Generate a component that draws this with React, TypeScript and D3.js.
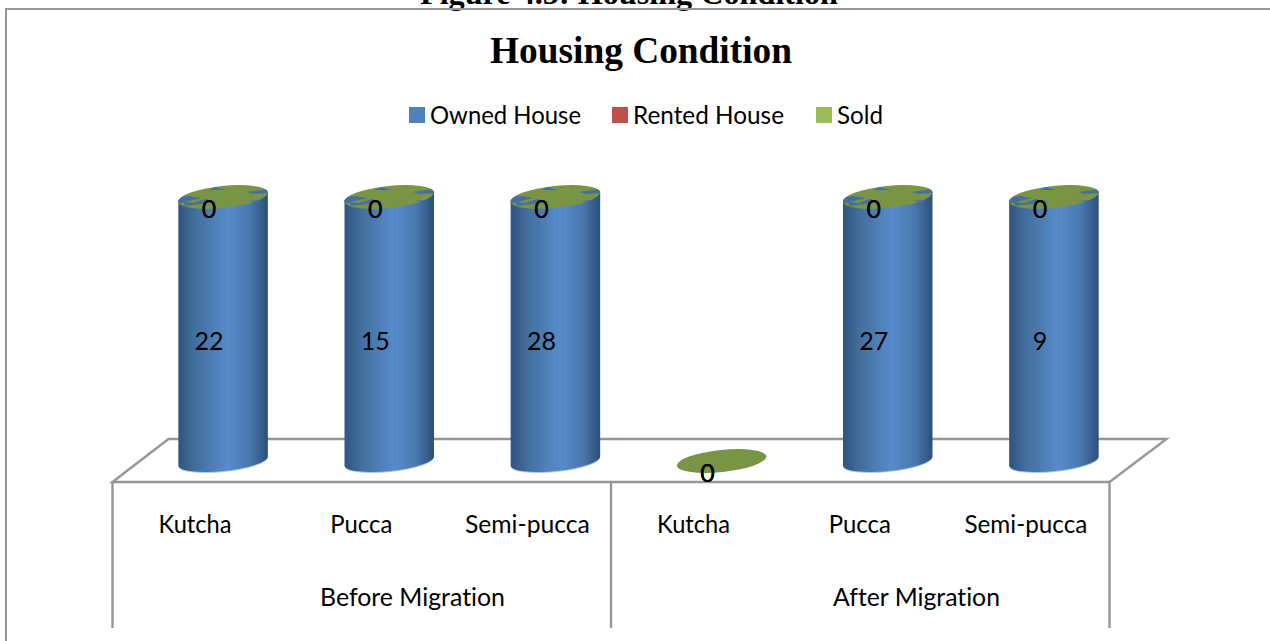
import React from "react";
import * as d3 from "d3";

const groups = ["Before Migration", "After Migration"];
const categories = ["Kutcha", "Pucca", "Semi-pucca", "Kutcha", "Pucca", "Semi-pucca"];
const ownedHouse = [22, 15, 28, 0, 27, 9];
const rentedHouse = [0, 0, 0, 0, 0, 0];
const soldHouse = [0, 0, 0, 0, 0, 0];
const seriesNames = ["Owned House", "Rented House", "Sold"];
const seriesColors = ["#4f81bd", "#c0504d", "#9bbb59"];
const title = "Housing Condition";
const caption = "Figure 4.5: Housing Condition";

const LINE = "#969696";
const AX_L = 112.5, AX_R = 1109.5, FLOOR_F = 482, FLOOR_B = 439, AX_B = 628;
const DX = 27.5, RX = 45, RY = 10, ROT = -6;
const FONT = "Lato, 'Open Sans', sans-serif";

const idx = d3.range(categories.length);
const x = d3.scaleBand<number>().domain(idx).range([AX_L, AX_R]);
const y = d3.scaleLinear().domain([0, 1]).range([461, 197]);
const rows = idx.map((i) => ({ i, owned: ownedHouse[i], rented: rentedHouse[i], sold: soldHouse[i] }));
const stacked = d3.stack<any>().keys(["owned", "rented", "sold"]).offset(d3.stackOffsetExpand)(rows);

const cosR = Math.cos((ROT * Math.PI) / 180);
const sinR = Math.sin((ROT * Math.PI) / 180);
const legendX = [409, 612, 816];
const legendW = [151, 151, 46];
const categoryW = [73, 62, 125, 73, 62, 123];
const groupX = [412.5, 916.5];
const groupW = [185, 167];

function cylinderPath(cx: number, top: number, bottom: number) {
  const dx = RX * cosR, dy = RX * sinR;
  return `M${cx - dx},${top - dy}L${cx - dx},${bottom - dy}A${RX},${RY} ${ROT} 0 0 ${cx + dx},${bottom + dy}L${cx + dx},${top + dy}A${RX},${RY} ${ROT} 0 0 ${cx - dx},${top - dy}Z`;
}

const slivers = [
  [[-46, 7], [-22, 1], [-34, -1], [-46, 0]],
  [[-38, 9], [-6, 5], [-18, 2], [-30, 6], [-40, 5]],
  [[-8, -10], [2, -7], [-14, -7]],
  [[24, -5], [46, -8], [46, -4], [30, -3]],
  [[24, 4], [36, 3], [46, -3], [46, 3], [36, 5]],
];

export default function App() {
  const floor = d3.line()([[AX_L, FLOOR_F], [AX_L + 56, FLOOR_B], [AX_R + 57, FLOOR_B], [AX_R, FLOOR_F]] as any) + "Z";
  const bandW = x.bandwidth();
  const txt = { fontFamily: FONT, fontSize: 25, fill: "#000", style: { fontVariantLigatures: "none" } } as any;
  return (
    <svg width={1270} height={641} style={{ position: "absolute", left: 0, top: 0, background: "#fff" }}>
      <defs>
        <linearGradient id="cyl" x1="0" x2="1" y1="0" y2="0">
          <stop offset="0" stopColor="#2f5480" />
          <stop offset="0.2" stopColor="#44709f" />
          <stop offset="0.55" stopColor="#568bcb" />
          <stop offset="0.8" stopColor="#4a78b0" />
          <stop offset="1" stopColor="#2c4f7a" />
        </linearGradient>
        {rows.map((r) => (
          <clipPath id={`top${r.i}`} key={r.i}>
            <ellipse
              rx={RX}
              ry={RY + 1}
              transform={`translate(${x(r.i)! + bandW / 2 + DX},${y(stacked[2][r.i][1])}) rotate(${ROT})`}
            />
          </clipPath>
        ))}
      </defs>

      <text x={629} y={4} textAnchor="middle" fontFamily="'Liberation Serif', serif" fontWeight="bold" fontSize={32} textLength={418} lengthAdjust="spacingAndGlyphs">
        {caption}
      </text>
      <path d="M6,641V9H1270" fill="none" stroke={LINE} strokeWidth={2} />

      <text x={641} y={63} textAnchor="middle" fontFamily="'Liberation Serif', serif" fontWeight="bold" fontSize={37} textLength={302} lengthAdjust="spacingAndGlyphs">
        {title}
      </text>

      {seriesNames.map((s, i) => (
        <g key={s}>
          <rect x={legendX[i]} y={107} width={16} height={16} fill={seriesColors[i]} />
          <text x={legendX[i] + 21} y={124} {...txt} textLength={legendW[i]} lengthAdjust="spacingAndGlyphs">
            {s}
          </text>
        </g>
      ))}

      <path d={floor} fill="none" stroke={LINE} strokeWidth={2.4} />
      {[0, 3, 6].map((k) => {
        const px = k === 6 ? AX_R : x(k)!;
        return <line key={k} x1={px} x2={px} y1={FLOOR_F} y2={AX_B} stroke={LINE} strokeWidth={2.4} />;
      })}

      {rows.map((r) => {
        const cx = x(r.i)! + bandW / 2 + DX;
        const own = stacked[0][r.i];
        const topY = y(stacked[2][r.i][1]);
        return (
          <g key={r.i}>
            {own[1] > own[0] && (
              <>
                <ellipse cx={cx} cy={y(own[0]) + 1} rx={RX} ry={RY} transform={`rotate(${ROT} ${cx} ${y(own[0]) + 1})`} fill="#a9c6ea" />
                <path d={cylinderPath(cx, y(own[1]), y(own[0]))} fill="url(#cyl)" />
              </>
            )}
            <ellipse cx={cx} cy={topY} rx={RX} ry={RY + 1} transform={`rotate(${ROT} ${cx} ${topY})`} fill="#7a9445" />
            {own[1] > own[0] && (
              <g clipPath={`url(#top${r.i})`}>
                {slivers.map((p, j) => (
                  <polygon key={j} points={p.map((q) => `${cx + q[0]},${topY + q[1]}`).join(" ")} fill="#44709f" />
                ))}
              </g>
            )}
          </g>
        );
      })}

      {stacked.map((ser, si) =>
        ser.map((d, i) => {
          const lx = x(i)! + bandW / 2 + 13.5;
          const ly = (y(d[0]) + y(d[1])) / 2 + 21;
          const value = [ownedHouse, rentedHouse, soldHouse][si][i];
          return (
            <text key={`${si}-${i}`} x={lx} y={ly} textAnchor="middle" {...txt}>
              {value}
            </text>
          );
        })
      )}

      {categories.map((c, i) => (
        <text key={i} x={x(i)! + bandW / 2 - 0.5} y={533} textAnchor="middle" {...txt} textLength={categoryW[i]} lengthAdjust="spacingAndGlyphs">
          {c}
        </text>
      ))}
      {groups.map((g, i) => (
        <text key={g} x={groupX[i]} y={606} textAnchor="middle" {...txt} textLength={groupW[i]} lengthAdjust="spacingAndGlyphs">
          {g}
        </text>
      ))}
    </svg>
  );
}
